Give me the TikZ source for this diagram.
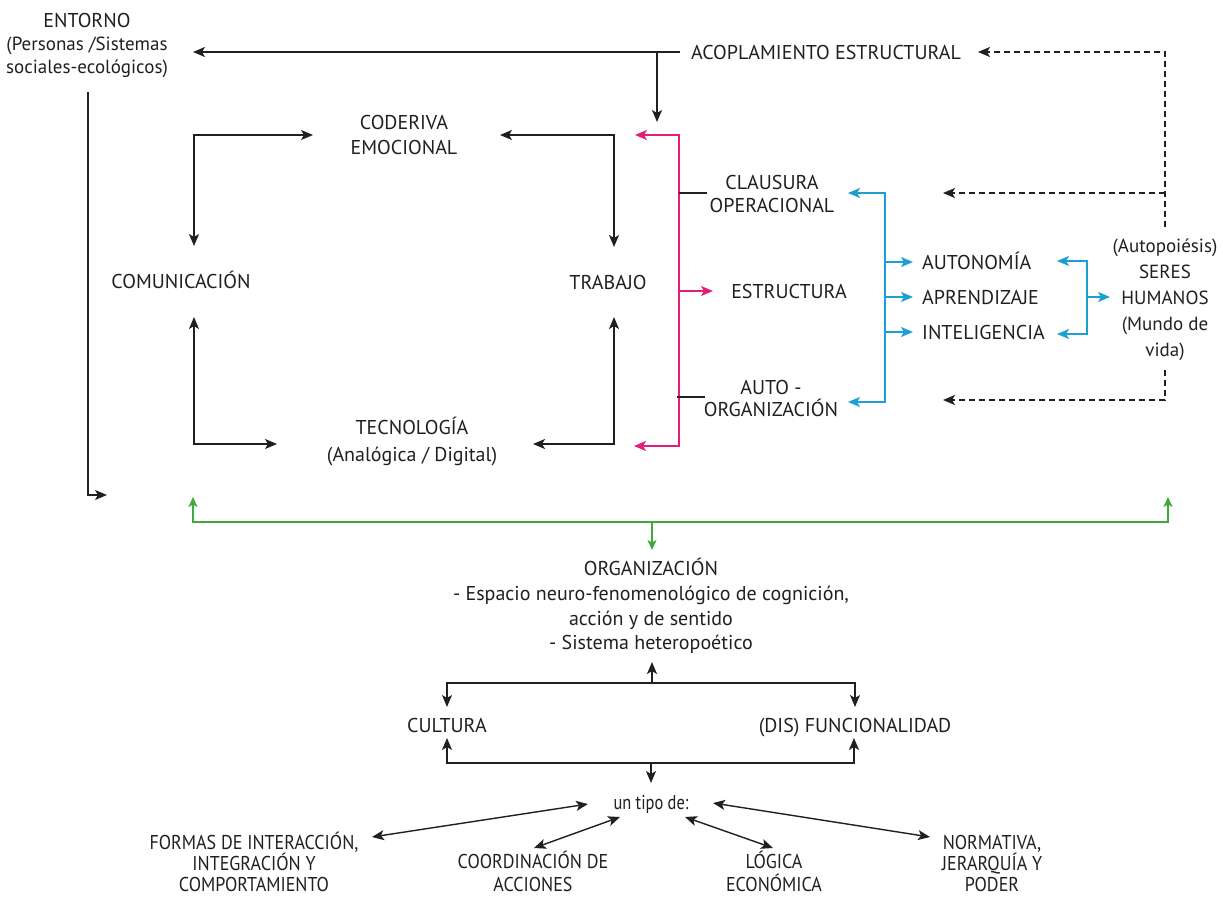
\documentclass[tikz,border=0pt]{standalone}
\usepackage{fontspec}
\setmainfont{PT Sans}
\newfontfamily\narrowfont[FakeStretch=0.9]{PT Sans}
\newfontfamily\tipofont[FakeStretch=0.82]{PT Sans}
\usetikzlibrary{arrows.meta}
\definecolor{ink}{RGB}{35,31,32}
\definecolor{mag}{RGB}{226,30,121}
\definecolor{sky}{RGB}{28,160,212}
\definecolor{leaf}{RGB}{62,170,58}
\tikzset{
  lbl/.style={inner sep=0pt, align=center, text=ink, font=\fontsize{20}{24}\selectfont},
  one/.style={text height=14pt, text depth=0pt},
  small/.style={inner sep=0pt, align=center, text=ink, font=\narrowfont\fontsize{20}{21}\selectfont},
  ln/.style={draw=ink, line width=1.4pt},
  pink/.style={draw=mag, line width=1.4pt},
  blue/.style={draw=sky, line width=1.4pt},
  green/.style={draw=leaf, line width=1.4pt, >={Stealth[length=10pt,width=9pt,inset=2.5pt]}},
  dsh/.style={draw=ink, line width=1.4pt, dash pattern=on 6pt off 4pt},
  >={Stealth[length=12pt,width=10pt,inset=3pt]}
}
\begin{document}
\begin{tikzpicture}[x=1pt,y=-1pt]
\useasboundingbox[fill=white] (0,0) rectangle (1223,897);

% ---------- labels ----------
\node[lbl, font=\fontsize{20}{23}\selectfont] (entorno) at (87,45) {ENTORNO\\{\fontsize{19}{23}\selectfont(Personas /Sistemas}\\{\fontsize{19}{23}\selectfont sociales-ecológicos)}};
\node[lbl,one] (acop) at (826,52) {ACOPLAMIENTO ESTRUCTURAL};
\node[lbl, font=\fontsize{20}{25}\selectfont] (coderiva) at (404,134.5) {CODERIVA\\EMOCIONAL};
\node[lbl,one] (comunic) at (181,281) {COMUNICACIÓN};
\node[lbl,one] (trabajo) at (608,282) {TRABAJO};
\node[lbl, font=\fontsize{20}{27}\selectfont] (tecno) at (412,441.5) {TECNOLOGÍA\\(Analógica / Digital)};
\node[lbl, font=\fontsize{20}{23}\selectfont] (clausura) at (772,193.5) {CLAUSURA\\OPERACIONAL};
\node[lbl,one] (estructura) at (789,291) {ESTRUCTURA};
\node[lbl, font=\fontsize{20}{22}\selectfont] (autoorg) at (771,398) {AUTO -\\ORGANIZACIÓN};
\node[lbl,one,anchor=west] (autonomia) at (922,262) {AUTONOMÍA};
\node[lbl,one,anchor=west] (aprendizaje) at (922,297) {APRENDIZAJE};
\node[lbl,one,anchor=west] (inteligencia) at (922,332) {INTELIGENCIA};
\node[lbl, font=\fontsize{19}{26}\selectfont] (seres) at (1165,300) {(Autopoiésis)\\SERES\\HUMANOS\\(Mundo de\\vida)};
\node[lbl, font=\fontsize{20}{24.7}\selectfont] (organizacion) at (651,606) {ORGANIZACIÓN\\- Espacio neuro-fenomenológico de cognición,\\acción y de sentido\\- Sistema heteropoético};
\node[lbl,one] (cultura) at (447,725) {CULTURA};
\node[lbl,one] (disfun) at (855,725) {(DIS) FUNCIONALIDAD};
\node[small,one,font=\tipofont\fontsize{20}{21}\selectfont] (tipo) at (651,802) {un tipo de:};
\node[small] (formas) at (254,862) {FORMAS DE INTERACCIÓN,\\INTEGRACIÓN Y\\COMPORTAMIENTO};
\node[small, font=\narrowfont\fontsize{20}{23}\selectfont] (coord) at (533,871) {COORDINACIÓN DE\\ACCIONES};
\node[small, font=\narrowfont\fontsize{20}{23}\selectfont] (logica) at (774,871) {LÓGICA\\ECONÓMICA};
\node[small] (normativa) at (992,863) {NORMATIVA,\\JERARQUÍA Y\\PODER};

% ---------- connector points ----------
\coordinate (entTip) at (193,52);
\coordinate (acopL) at (680,52);
\coordinate (drop) at (657,52);
\coordinate (dropTip) at (657,122);
\coordinate (entA) at (88,92);
\coordinate (entB) at (88,495);
\coordinate (entTip2) at (107,495);

\coordinate (cdL) at (313,135);
\coordinate (cdR) at (500,135);
\coordinate (nw) at (194,135);
\coordinate (ne) at (614,135);
\coordinate (cmTop) at (194,246);
\coordinate (cmBot) at (194,317);
\coordinate (trTop) at (614,247);
\coordinate (trBot) at (614,317);
\coordinate (sw) at (194,444);
\coordinate (se) at (614,444);
\coordinate (tcL) at (277,444);
\coordinate (tcR) at (533,444);

\coordinate (mTopTip) at (635,135);
\coordinate (mTop) at (679,135);
\coordinate (mBot) at (679,446);
\coordinate (mBotTip) at (634,446);
\coordinate (mMid) at (679,291);
\coordinate (mMidTip) at (713,291);
\coordinate (tkA1) at (679,193);
\coordinate (tkA2) at (707,193);
\coordinate (tkB1) at (677,397);
\coordinate (tkB2) at (705,397);

\coordinate (bTopTip) at (848,193);
\coordinate (bTop) at (885,193);
\coordinate (bBot) at (885,402);
\coordinate (bBotTip) at (848,402);
\coordinate (b1) at (885,262);
\coordinate (b2) at (885,297);
\coordinate (b3) at (885,332);
\coordinate (b1t) at (913,262);
\coordinate (b2t) at (913,297);
\coordinate (b3t) at (913,332);
\coordinate (rTopTip) at (1057,261);
\coordinate (rTop) at (1087,261);
\coordinate (rBot) at (1087,334);
\coordinate (rBotTip) at (1057,334);
\coordinate (rMid) at (1087,297);
\coordinate (rMidTip) at (1110,297);

\coordinate (dA) at (1165,227);
\coordinate (dTop) at (1165,52);
\coordinate (dAcTip) at (978,52);
\coordinate (dCl) at (1165,193);
\coordinate (dClTip) at (943,193);
\coordinate (dB) at (1165,370);
\coordinate (dBot) at (1165,400);
\coordinate (dAoTip) at (943,400);

\coordinate (gLTip) at (193,497);
\coordinate (gL) at (193,522);
\coordinate (gR) at (1168,522);
\coordinate (gRTip) at (1168,497);
\coordinate (gM) at (652,522);
\coordinate (gMTip) at (652,550);

\coordinate (oTip) at (652,662);
\coordinate (oM) at (652,683);
\coordinate (oL) at (447,683);
\coordinate (oR) at (855,683);
\coordinate (oLTip) at (447,707);
\coordinate (oRTip) at (855,707);

\coordinate (uL) at (447,763);
\coordinate (uR) at (854,763);
\coordinate (uLTip) at (447,738);
\coordinate (uRTip) at (854,738);
\coordinate (uM) at (651,763);
\coordinate (uMTip) at (651,783);

\coordinate (f1) at (372,837);
\coordinate (f2) at (588,804);
\coordinate (c1) at (534,848);
\coordinate (c2) at (620,817);
\coordinate (l1) at (685,817);
\coordinate (l2) at (773,848);
\coordinate (n1) at (713,803);
\coordinate (n2) at (930,837);

% ---------- structural coupling ----------
\draw[ln,->] (acopL) -- (entTip);
\draw[ln,->] (drop) -- (dropTip);
\draw[ln,->] (entA) -- (entB) -- (entTip2);

% ---------- loop of the four processes ----------
\draw[ln,<->] (cdL) -- (nw) -- (cmTop);
\draw[ln,<->] (cdR) -- (ne) -- (trTop);
\draw[ln,<->] (cmBot) -- (sw) -- (tcL);
\draw[ln,<->] (tcR) -- (se) -- (trBot);

% ---------- structure bracket ----------
\draw[pink,<->] (mTopTip) -- (mTop) -- (mBot) -- (mBotTip);
\draw[pink,->] (mMid) -- (mMidTip);
\draw[ln] (tkA1) -- (tkA2);
\draw[ln] (tkB1) -- (tkB2);

% ---------- autonomy bracket ----------
\draw[blue,<->] (bTopTip) -- (bTop) -- (bBot) -- (bBotTip);
\draw[blue,->] (b1) -- (b1t);
\draw[blue,->] (b2) -- (b2t);
\draw[blue,->] (b3) -- (b3t);
\draw[blue,<->] (rTopTip) -- (rTop) -- (rBot) -- (rBotTip);
\draw[blue,->] (rMid) -- (rMidTip);

% ---------- dashed feedback ----------
\draw[dsh,->] (dA) -- (dTop) -- (dAcTip);
\draw[dsh,->] (dCl) -- (dClTip);
\draw[dsh,->] (dB) -- (dBot) -- (dAoTip);

% ---------- organisation ----------
\draw[green,<->] (gLTip) -- (gL) -- (gR) -- (gRTip);
\draw[green,->] (gM) -- (gMTip);

\draw[ln,->] (oM) -- (oTip);
\draw[ln,<->] (oLTip) -- (oL) -- (oR) -- (oRTip);
\draw[ln,<->] (uLTip) -- (uL) -- (uR) -- (uRTip);
\draw[ln,->] (uM) -- (uMTip);

\draw[ln,<->] (f1) -- (f2);
\draw[ln,<->] (c1) -- (c2);
\draw[ln,<->] (l1) -- (l2);
\draw[ln,<->] (n1) -- (n2);
\end{tikzpicture}
\end{document}
